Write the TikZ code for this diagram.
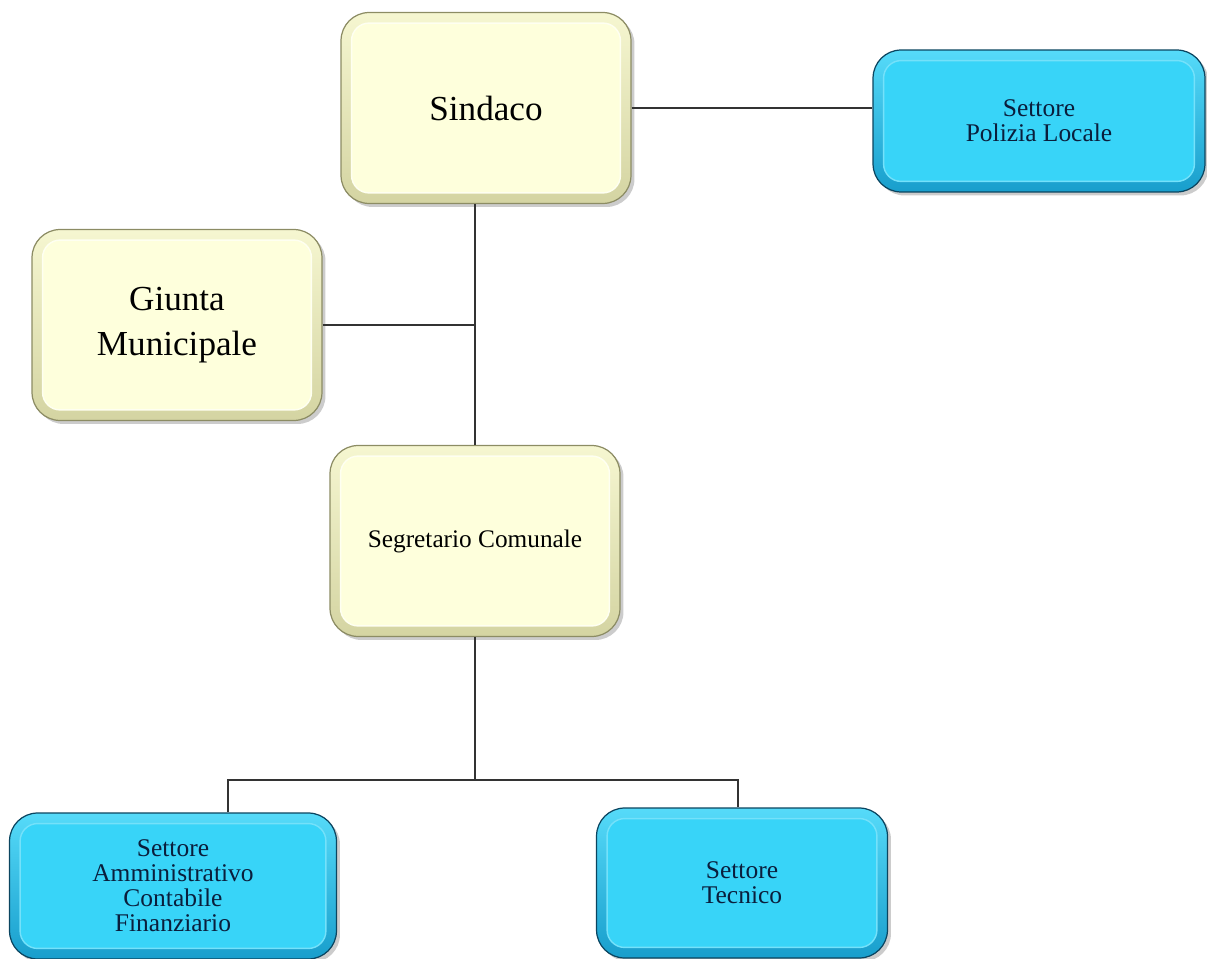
\documentclass[tikz,border=0pt]{standalone}
\usepackage{fontspec}
\setmainfont{Liberation Serif}
\usetikzlibrary{shadows}
\definecolor{creamface}{HTML}{FEFFDC}
\definecolor{creamrim}{HTML}{D4D4A2}
\definecolor{creamline}{HTML}{8C8C64}
\definecolor{cyanface}{HTML}{38D4F8}
\definecolor{cyanrim}{HTML}{189ECC}
\definecolor{cyanline}{HTML}{0B4560}
\definecolor{navytext}{HTML}{0A1E3C}

\begin{document}
\begin{tikzpicture}[x=0.02cm,y=-0.02cm,
  org node/.style={rounded corners=16pt,align=center,inner sep=0pt,line width=0.7pt,
    drop shadow={shadow xshift=2pt,shadow yshift=-2pt,opacity=0.4}},
  main node/.style={org node,draw=creamline,top color=creamface!80!creamrim,bottom color=creamrim,
    minimum width=5.8cm,minimum height=3.82cm,
    path picture={\draw[white!60!creamface,fill=creamface,rounded corners=10pt,line width=0.8pt]
      ([shift={(6pt,-6pt)}]path picture bounding box.north west) rectangle
      ([shift={(-6pt,6pt)}]path picture bounding box.south east);}},
  sector node/.style={org node,draw=cyanline,top color=cyanface!85!white,bottom color=cyanrim,
    text=navytext,font=\fontsize{14.5}{14.2}\selectfont,
    path picture={\draw[cyanface!70!white,fill=cyanface,rounded corners=10pt,line width=0.8pt]
      ([shift={(6pt,-6pt)}]path picture bounding box.north west) rectangle
      ([shift={(-6pt,6pt)}]path picture bounding box.south east);}},
  link/.style={draw=black!80,line width=0.6pt}]

  \useasboundingbox (0,0) rectangle (1207,959);

  \node[main node,font=\fontsize{20}{26}\selectfont] (sindaco) at (486,108) {Sindaco};
  \node[main node,font=\fontsize{20}{26}\selectfont] (giunta) at (177,325) {Giunta\\Municipale};
  \node[main node,font=\fontsize{14.4}{14}\selectfont] (segretario) at (475,541) {Segretario Comunale};
  \node[sector node,minimum width=6.64cm,minimum height=2.84cm] (polizia) at (1039,121) {Settore\\Polizia Locale};
  \node[sector node,minimum width=6.54cm,minimum height=2.92cm] (amministrativo) at (173,886) {Settore\\Amministrativo\\Contabile\\Finanziario};
  \node[sector node,minimum width=5.82cm,minimum height=3.0cm] (tecnico) at (742,883) {Settore\\Tecnico};

  \coordinate (split) at (475,780);
  \coordinate (amm top) at (228,780);
  \coordinate (tec top) at (738,780);

  \draw[link] (sindaco.east) -- (sindaco.east -| polizia.west);
  \draw[link] (segretario.north |- sindaco.south) -- (segretario.north);
  \draw[link] (giunta.east) -- (giunta.east -| segretario.north);
  \draw[link] (segretario.south) -- (split);
  \draw[link] (amministrativo.north -| amm top) -- (amm top) -- (tec top) -- (tecnico.north -| tec top);

\end{tikzpicture}
\end{document}
